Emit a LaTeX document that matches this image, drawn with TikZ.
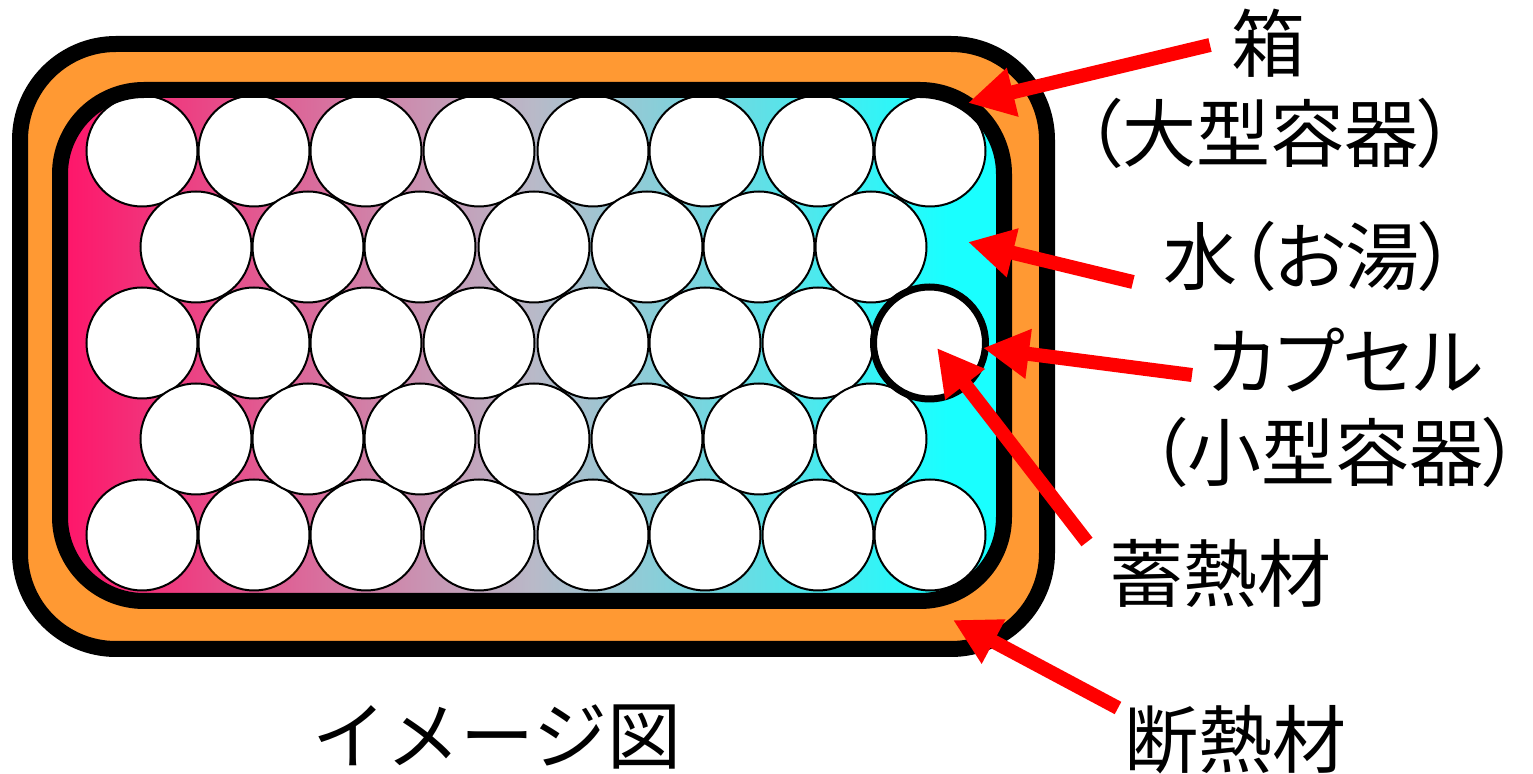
\documentclass[tikz,border=0pt]{standalone}
\usepackage{fontspec}
\newfontfamily\jp{Noto Sans CJK JP}[RawFeature=+palt]
\newfontfamily\jpfull{Noto Sans CJK JP}
\usetikzlibrary{arrows.meta}
\definecolor{insul}{RGB}{255,153,51}
\definecolor{pk}{RGB}{255,20,105}
\definecolor{midg}{RGB}{185,185,200}
\definecolor{cy}{RGB}{25,255,255}
\definecolor{arrowred}{RGB}{255,0,0}
\pgfdeclarehorizontalshading{water}{100bp}{color(0bp)=(pk); color(25bp)=(pk); color(50bp)=(midg); color(72bp)=(cy); color(100bp)=(cy)}
\begin{document}
\begin{tikzpicture}[x=0.5pt,y=-0.5pt,
  ball/.style={circle,draw=black,line width=1pt,fill=white,minimum size=55.5pt,inner sep=0pt},
  capsulebox/.style={circle,draw=black,line width=3.5pt,fill=white,minimum size=56pt,inner sep=0pt},
  lbl/.style={font=\jp\fontsize{37pt}{44pt}\selectfont,inner sep=0pt,text=black},
  ptr/.style={draw=arrowred,line width=7pt,-{Triangle[length=23pt,width=23.5pt]}}]
\useasboundingbox (0,0) rectangle (1533,774);
% insulation box
\path[draw=black,line width=8pt,fill=insul,rounded corners=48pt] (20,44) rectangle (1047,649);
% water
\path[shading=water,rounded corners=42pt] (60,90) rectangle (1004,601);
% heat storage balls
\foreach \r/\y in {1/151,3/343,5/535}{
  \foreach \k/\x in {1/142,2/254,3/366,4/479,5/593,6/705,7/818,8/930}{
    \node[ball] (c-\r-\k) at (\x,\y) {};
  }
}
\foreach \r/\y in {2/247,4/439}{
  \foreach \k/\x in {1/196,2/308,3/420,4/534,5/647,6/759,7/871}{
    \node[ball] (c-\r-\k) at (\x,\y) {};
  }
}
% inner container wall
\draw[line width=8pt,rounded corners=42pt] (60,90) rectangle (1004,601);
% capsule
\node[capsulebox] (capsule) at (929.5,343) {};
% labels
\node[lbl] (box) at (1268,43) {箱};
\node[lbl] (boxsub) at (1270,133) {（大型容器）};
\node[lbl] (water) at (1310,256) {水（お湯）};
\node[lbl] (caps) at (1345,360) {カプセル};
\node[lbl] (capssub) at (1335,452) {\kern-0.45em（小型容器）\kern-0.45em};
\node[lbl] (pcm) at (1220,573) {蓄熱材};
\node[lbl] (ins) at (1235,740) {断熱材};
\node[lbl,font=\jpfull\fontsize{37pt}{44pt}\selectfont] (title) at (497,737) {イメージ図};
% arrow ends
\coordinate (t1) at (1210,45);  \coordinate (h1) at (968,103);
\coordinate (t2) at (1133,282); \coordinate (h2) at (968,242);
\coordinate (t3) at (1192,375); \coordinate (h3) at (983,348);
\coordinate (t4) at (1087,542); \coordinate (h4) at (937,348);
\coordinate (t5) at (1118,708); \coordinate (h5) at (953,620);
\draw[ptr] (t1) -- (h1);
\draw[ptr] (t2) -- (h2);
\draw[ptr] (t3) -- (h3);
\draw[ptr] (t4) -- (h4);
\draw[ptr] (t5) -- (h5);
\end{tikzpicture}
\end{document}
